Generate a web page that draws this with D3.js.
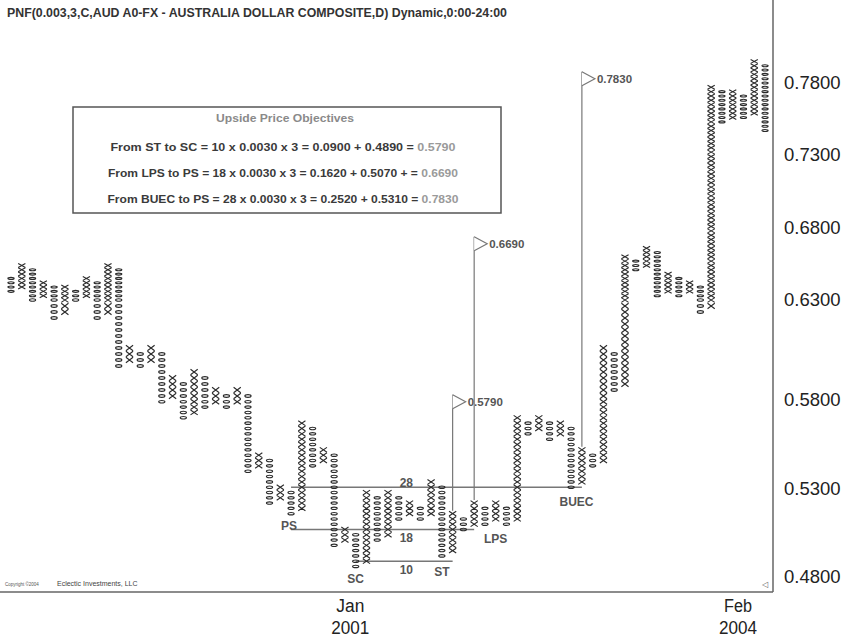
<!DOCTYPE html>
<html>
<head>
<meta charset="utf-8">
<script src="https://cdn.jsdelivr.net/npm/d3@7"></script>
<style>
  body { margin: 0; background: #fff; }
  svg { display: block; font-family: "Liberation Sans", Arial, sans-serif; }
</style>
</head>
<body>
<svg id="chart" width="846" height="640"></svg>
<script>
// Point & figure: box 0.003, 3-box reversal
const boxSize = 0.003;

// One entry per column, left to right
const columnType = ["O","X","O","X","O","X","O","X","O","X",
                    "O","X","O","X","O","X","O","X","O","X",
                    "O","X","O","X","O","X","O","X","O","X",
                    "O","X","O","X","O","X","O","X","O","X",
                    "O","X","O","X","O","X","O","X","O","X",
                    "O","X","O","X","O","X","O","X","O","X",
                    "O","X","O","X","O","X","O","X","O","X","O"];
const columnLow  = [0.636,0.639,0.630,0.633,0.621,0.624,0.630,0.633,0.621,0.624,
                    0.597,0.600,0.597,0.600,0.579,0.582,0.570,0.573,0.576,0.579,
                    0.576,0.579,0.540,0.543,0.522,0.525,0.516,0.519,0.543,0.546,
                    0.498,0.501,0.486,0.489,0.501,0.504,0.513,0.516,0.513,0.516,
                    0.492,0.495,0.507,0.510,0.510,0.513,0.510,0.513,0.561,0.564,
                    0.558,0.561,0.531,0.534,0.543,0.546,0.585,0.588,0.651,0.654,
                    0.633,0.636,0.633,0.636,0.624,0.627,0.753,0.756,0.756,0.759,0.747];
const columnHigh = [0.645,0.654,0.651,0.642,0.639,0.639,0.636,0.645,0.642,0.654,
                    0.651,0.606,0.603,0.606,0.603,0.591,0.588,0.594,0.591,0.585,
                    0.582,0.585,0.582,0.549,0.546,0.531,0.528,0.567,0.564,0.552,
                    0.549,0.507,0.504,0.528,0.525,0.528,0.525,0.522,0.519,0.534,
                    0.531,0.516,0.513,0.522,0.519,0.522,0.519,0.570,0.567,0.570,
                    0.567,0.567,0.564,0.552,0.549,0.606,0.603,0.660,0.657,0.666,
                    0.663,0.648,0.645,0.642,0.639,0.777,0.774,0.774,0.771,0.795,0.792];

// Price axis
const priceTicks = [0.48, 0.53, 0.58, 0.63, 0.68, 0.73, 0.78];

// Date markers (column where the month starts)
const dateMonths  = ["Jan", "Feb"];
const dateYears   = ["2001", "2004"];
const dateColumns = [33, 69];

// Horizontal counts across the trading range
const countNames  = ["28", "18", "10"];
const countLevels = [0.531, 0.507, 0.489];
const countFrom   = [27, 27, 33];
const countTo     = [54, 44, 42];
const countLabelColumn = 37.7;
const countLabelLevels = [0.5334, 0.5022, 0.4845];

// Upside price objectives (flags)
const targetValues  = [0.579, 0.669, 0.783];
const targetColumns = [42, 44, 54];

// Wyckoff event labels
const eventNames   = ["PS", "SC", "ST", "LPS", "BUEC"];
const eventColumns = [26.8, 33, 41, 46, 53.5];
const eventLevels  = [0.509, 0.479, 0.483, 0.502, 0.523];

// Objective text lines
const objectiveText = [
  "From ST to SC = 10 x 0.0030 x 3 = 0.0900 + 0.4890 = ",
  "From LPS to PS = 18 x 0.0030 x 3 = 0.1620 + 0.5070 + = ",
  "From BUEC to PS = 28 x 0.0030 x 3 = 0.2520 + 0.5310 = "
];

const svg = d3.select("#chart");
const W = 846, H = 640;
const frameRight = 773, frameBottom = 592;

const x = d3.scaleLinear().domain([1, columnType.length]).range([11, 765]);
const y = d3.scaleLinear().domain(priceTicks).range([577, 489, 400, 300, 228, 155, 83]);

svg.append("rect").attr("width", W).attr("height", H).attr("fill", "#fff");

// Title
svg.append("text")
  .attr("x", 7).attr("y", 17)
  .attr("font-size", 12).attr("font-weight", "bold").attr("fill", "#333")
  .attr("textLength", 500).attr("lengthAdjust", "spacingAndGlyphs")
  .text("PNF(0.003,3,C,AUD A0-FX - AUSTRALIA DOLLAR COMPOSITE,D) Dynamic,0:00-24:00");

// Frame
svg.append("line").attr("x1", frameRight).attr("x2", frameRight)
  .attr("y1", 0).attr("y2", frameBottom).attr("stroke", "#666").attr("stroke-width", 1.5);
svg.append("line").attr("x1", 0).attr("x2", frameRight)
  .attr("y1", frameBottom).attr("y2", frameBottom).attr("stroke", "#666").attr("stroke-width", 1.5);

// Price axis on the right
const yAxis = d3.axisRight(y).tickValues(priceTicks)
  .tickFormat(d3.format(".4f")).tickSize(0).tickPadding(11);
const ga = svg.append("g").attr("transform", `translate(${frameRight},0)`).call(yAxis);
ga.select(".domain").remove();
ga.selectAll("text").attr("font-size", 18.5).attr("fill", "#222")
  .attr("font-family", "'Liberation Sans', Arial, sans-serif");

// Date labels
dateColumns.forEach((c, i) => {
  const cx = x(c - 0.5);
  svg.append("text").attr("x", cx).attr("y", 612).attr("text-anchor", "middle")
    .attr("font-size", 18).attr("fill", "#222").attr("textLength", 28).attr("lengthAdjust", "spacingAndGlyphs")
    .text(dateMonths[i]);
  svg.append("text").attr("x", cx).attr("y", 634).attr("text-anchor", "middle")
    .attr("font-size", 18).attr("fill", "#222").attr("textLength", 38).attr("lengthAdjust", "spacingAndGlyphs")
    .text(dateYears[i]);
});

// Objectives box
const box = svg.append("g");
box.append("rect").attr("x", 73).attr("y", 107).attr("width", 428).attr("height", 106)
  .attr("fill", "none").attr("stroke", "#555").attr("stroke-width", 1.5);
box.append("text").attr("x", 285).attr("y", 122).attr("text-anchor", "middle")
  .attr("font-size", 10.5).attr("font-weight", "bold").attr("fill", "#8a8a8a")
  .attr("textLength", 138).attr("lengthAdjust", "spacingAndGlyphs")
  .text("Upside Price Objectives");
const lineY = [151, 177, 203];
const lineLen = [345, 350, 351];
objectiveText.forEach((t, i) => {
  const tx = box.append("text").attr("x", 283).attr("y", lineY[i]).attr("text-anchor", "middle")
    .attr("font-size", 10.5).attr("font-weight", "bold").attr("fill", "#3a3a3a")
    .attr("textLength", lineLen[i]).attr("lengthAdjust", "spacingAndGlyphs");
  tx.append("tspan").text(t);
  tx.append("tspan").attr("fill", "#9a9a9a").text(targetValues[i].toFixed(4));
});

// Count lines
countLevels.forEach((lv, i) => {
  svg.append("line")
    .attr("x1", x(countFrom[i])).attr("x2", x(countTo[i]))
    .attr("y1", y(lv)).attr("y2", y(lv))
    .attr("stroke", "#777").attr("stroke-width", 1.5);
  svg.append("text").attr("x", x(countLabelColumn)).attr("y", y(countLabelLevels[i]) + 4.5)
    .attr("text-anchor", "middle").attr("font-size", 12).attr("font-weight", "bold").attr("fill", "#555")
    .text(countNames[i]);
});

// Objective flags
targetValues.forEach((v, i) => {
  const c = targetColumns[i];
  const fx = x(c), fy = y(v);
  const colTop = y(columnHigh[c - 1]) - 3;
  svg.append("line").attr("x1", fx).attr("x2", fx).attr("y1", fy - 7).attr("y2", colTop)
    .attr("stroke", "#777").attr("stroke-width", 1.2);
  svg.append("path")
    .attr("d", `M${fx},${fy - 7}L${fx + 13},${fy}L${fx},${fy + 7}`)
    .attr("fill", "#fff").attr("stroke", "#777").attr("stroke-width", 1.2);
  svg.append("text").attr("x", fx + 15).attr("y", fy + 4)
    .attr("font-size", 11.5).attr("font-weight", "bold").attr("fill", "#555")
    .text(v.toFixed(4));
});

// Columns of X and O
const gCols = svg.append("g");
columnType.forEach((t, i) => {
  const cx = x(i + 1);
  const n0 = Math.round(columnLow[i] / boxSize), n1 = Math.round(columnHigh[i] / boxSize);
  for (let n = n0; n <= n1; n++) {
    const p = n * boxSize;
    const cy = y(p);
    const hh = Math.abs(y(p - boxSize / 2) - y(p + boxSize / 2)) / 2 * 0.92;
    if (t === "X") {
      gCols.append("path")
        .attr("d", `M${cx - 3.6},${cy - hh}L${cx + 3.6},${cy + hh}M${cx - 3.6},${cy + hh}L${cx + 3.6},${cy - hh}`)
        .attr("stroke", "#2a2a2a").attr("stroke-width", 1.1).attr("fill", "none");
    } else {
      gCols.append("ellipse").attr("cx", cx).attr("cy", cy)
        .attr("rx", 3.1).attr("ry", Math.max(1.0, hh * 0.5))
        .attr("stroke", "#2a2a2a").attr("stroke-width", 1.1).attr("fill", "none");
    }
  }
});

// Event labels
eventNames.forEach((nm, i) => {
  svg.append("text").attr("x", x(eventColumns[i])).attr("y", y(eventLevels[i]) + 4.5)
    .attr("text-anchor", "middle").attr("font-size", 12).attr("font-weight", "bold").attr("fill", "#555")
    .text(nm);
});

// Footer credit
svg.append("text").attr("x", 5).attr("y", 586).attr("font-size", 4.5).attr("fill", "#555")
  .text("Copyright ©2004");
svg.append("text").attr("x", 57).attr("y", 586).attr("font-size", 7).attr("fill", "#444")
  .text("Eclectic Investments, LLC");
svg.append("text").attr("x", 762).attr("y", 587).attr("font-size", 8).attr("fill", "#666")
  .text("◁");
</script>
</body>
</html>
